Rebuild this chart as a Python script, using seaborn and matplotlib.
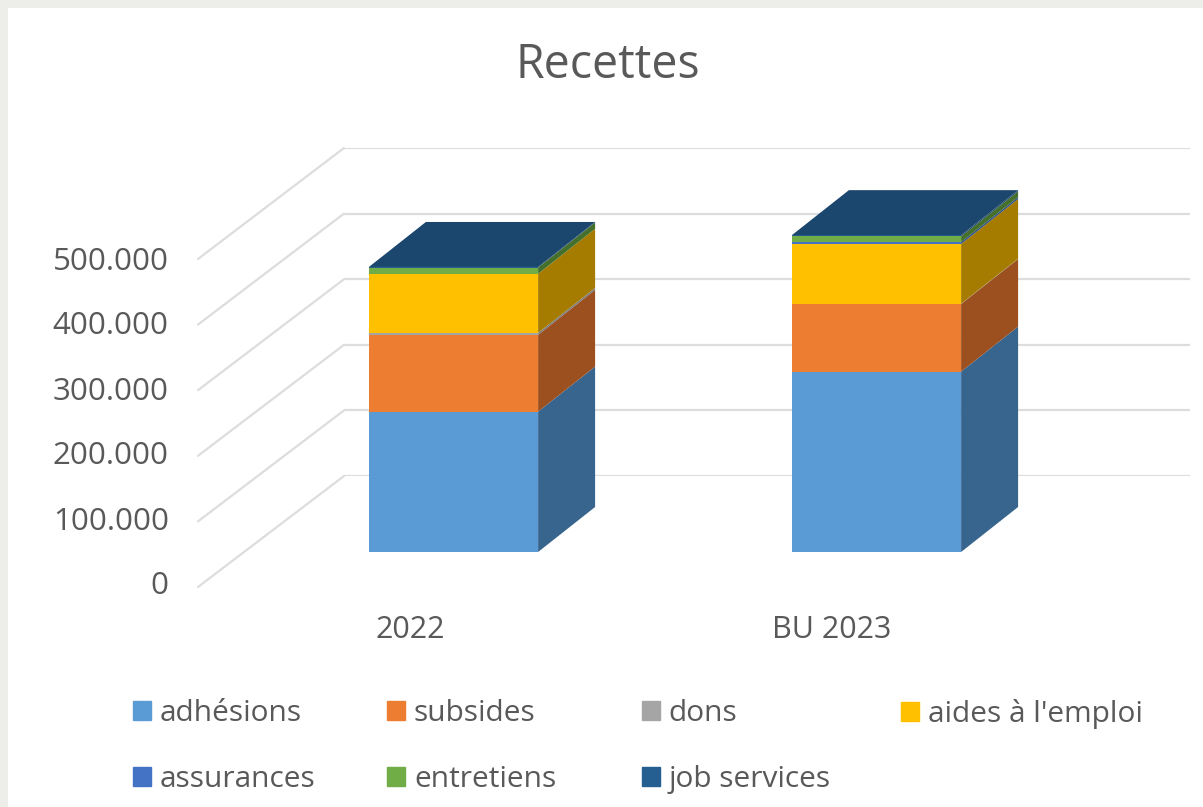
import matplotlib
matplotlib.use("Agg")
import matplotlib.pyplot as plt
from matplotlib.patches import Patch, Rectangle
from matplotlib.ticker import FuncFormatter
import numpy as np
import seaborn as sns

categories = ["2022", "BU 2023"]
series_names = ["adhésions", "subsides", "dons", "aides à l'emploi", "assurances", "entretiens", "job services"]
adhesions = [214000, 275000]
subsides = [117000, 103000]
dons = [3000, 500]
aides_emploi = [90000, 91000]
assurances = [0, 3000]
entretiens = [9500, 8500]
job_services = [1000, 2000]
y_ticks = [0, 100000, 200000, 300000, 400000, 500000]

front = ["#5B9BD5", "#ED7D31", "#A5A5A5", "#FFC000", "#4472C4", "#70AD47", "#255E91"]
side = ["#38658E", "#9C501F", "#7C7C7C", "#A67C00", "#2E4F88", "#45702C", "#1B4568"]
TOP = "#1B466D"
TXT = "#595959"
GRID = "#DDDDDD"

W, H = 1203, 807
sns.set_theme(style="white")
plt.rcParams["font.family"] = ["Open Sans", "DejaVu Sans"]
fig = plt.figure(figsize=(W / 100, H / 100), dpi=100, facecolor="white")


def box(l, top, r, bottom):
    return [l / W, 1 - bottom / H, (r - l) / W, (bottom - top) / H]


# page margin
fig.patches.append(Rectangle((0, 0), 8 / W, 1, transform=fig.transFigure, color="#EDEDE9", lw=0))
fig.patches.append(Rectangle((0, 1 - 8 / H), 1, 8 / H, transform=fig.transFigure, color="#EDEDE9", lw=0))

# back wall with its gridlines and the diagonal floor/side lines
wall = fig.add_axes(box(344, 148, 1190, 476), facecolor="none")
wall.set_ylim(0, 500000)
wall.set_xlim(0, 1)
wall.set_xticks([])
wall.set_yticks(y_ticks)
wall.set_yticklabels([])
wall.tick_params(left=False)
wall.grid(axis="y", color=GRID, lw=1.6)
sns.despine(ax=wall, left=True, bottom=True)
wall_dx = -146 / 846
wall_dy = -111 / 328 * 500000
for v in y_ticks:
    wall.plot([wall_dx, 0], [v + wall_dy, v], color=GRID, lw=1.6, clip_on=False, solid_capstyle="round")

# bars
ax = fig.add_axes([0, 0, 1, 1], facecolor="none")
stack = [adhesions, subsides, dons, aides_emploi, assurances, entretiens, job_services]
bar_w = 0.4
bottoms = np.zeros(2)
px_x, px_y = 423.0, 328 / 500000
dx, dy = 57 / px_x, 45 / px_y
for name, vals, fc, sc in zip(series_names, stack, front, side):
    vals = np.array(vals, dtype=float)
    sns.barplot(x=categories, y=vals, bottom=bottoms, color=fc, width=bar_w, saturation=1,
                ax=ax, order=categories, linewidth=0)
    for i in range(2):
        xr = i + bar_w / 2
        y0, y1 = bottoms[i], bottoms[i] + vals[i]
        if vals[i] > 0:
            ax.fill([xr, xr + dx, xr + dx, xr], [y0, y0 + dy, y1 + dy, y1], color=sc, lw=0)
    bottoms = bottoms + vals
for i in range(2):
    xl, xr = i - bar_w / 2, i + bar_w / 2
    t = bottoms[i]
    ax.fill([xl, xr, xr + dx, xl + dx], [t, t, t + dy, t + dy], color=TOP, lw=0)
ax.set_xlim((0 - 453.5) / px_x, (W - 453.5) / px_x)
ax.set_ylim((552 - H) / px_y, 552 / px_y)
ax.axis("off")

# axis labels
lab = fig.add_axes(box(198, 258, 1190, 583), facecolor="none")
lab.set_ylim(0, 500000)
lab.set_xlim((198 - 410) / 422, (1190 - 410) / 422)
lab.set_yticks(y_ticks)
lab.yaxis.set_major_formatter(FuncFormatter(lambda v, _: f"{int(v):,}".replace(",", ".")))
lab.set_xticks([0, 1])
lab.set_xticklabels(categories)
lab.tick_params(axis="y", left=False, pad=15, labelsize=22.5, labelcolor=TXT)
lab.tick_params(axis="x", bottom=False, pad=17, labelsize=22, labelcolor=TXT)
sns.despine(ax=lab, left=True, bottom=True)

fig.text(608 / W, 1 - 65 / H, "Recettes", ha="center", va="center", fontsize=33.5, color=TXT)

# legend in four columns
order = [[0, 4], [1, 5], [2, 6], [3]]
col_x = [133, 387, 642, 901]
for idx, x in zip(order, col_x):
    handles = [Patch(color=front[i], label=series_names[i]) for i in idx]
    leg = fig.legend(handles=handles, loc="upper left", bbox_to_anchor=(x / W, 1 - 699 / H),
                     frameon=False, fontsize=21.5, labelcolor=TXT, handlelength=0.6, handleheight=0.6,
                     handletextpad=0.3, labelspacing=1.24, borderpad=0, borderaxespad=0)

fig.savefig("out.png", dpi=100, facecolor="white")
